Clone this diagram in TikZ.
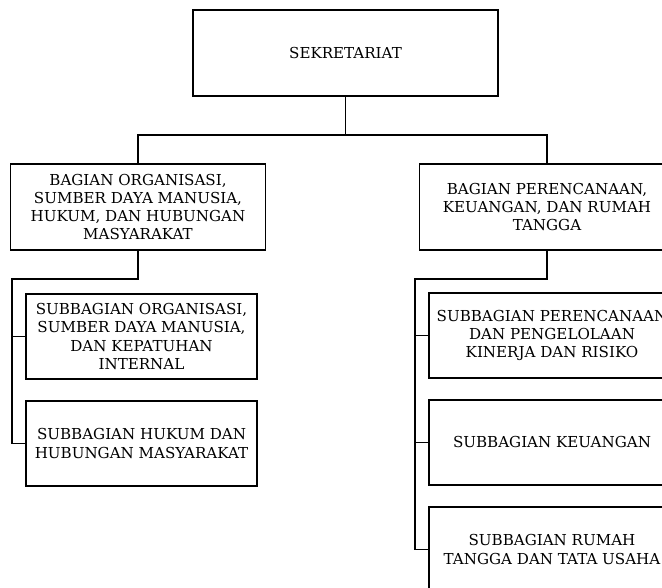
\documentclass[tikz,border=0pt]{standalone}
\usepackage{fontspec}
\setmainfont{DejaVu Serif}
\begin{document}
\begin{tikzpicture}[x=1pt,y=-1pt,
  orgbox/.style={draw=black, line width=1.3pt, align=center, inner sep=0pt,
    font={\fontsize{15.1pt}{18.3pt}\selectfont}, text=black},
  conn/.style={draw=black, line width=1.3pt}]
\useasboundingbox (0,0) rectangle (662,588);
\clip (0,0) rectangle (662,588);
% top
\node[orgbox, minimum width=305pt, minimum height=86pt] (sek) at (345.5,53) {SEKRETARIAT};
% level 2
\node[orgbox, minimum width=254.5pt, minimum height=86pt] (b1) at (138,207)
  {BAGIAN ORGANISASI,\\SUMBER DAYA MANUSIA,\\HUKUM, DAN HUBUNGAN\\MASYARAKAT};
\node[orgbox, minimum width=254.5pt, minimum height=86pt] (b2) at (547,207)
  {BAGIAN PERENCANAAN,\\KEUANGAN, DAN RUMAH\\TANGGA};
% level 3 left
\node[orgbox, minimum width=231pt, minimum height=85pt] (s1) at (141.5,336.5)
  {SUBBAGIAN ORGANISASI,\\SUMBER DAYA MANUSIA,\\DAN KEPATUHAN\\INTERNAL};
\node[orgbox, minimum width=231pt, minimum height=85pt] (s2) at (141.5,443.5)
  {SUBBAGIAN HUKUM DAN\\HUBUNGAN MASYARAKAT};
% level 3 right
\node[orgbox, minimum width=246pt, minimum height=85pt] (s3) at (552,335.5)
  {SUBBAGIAN PERENCANAAN\\DAN PENGELOLAAN\\KINERJA DAN RISIKO};
\node[orgbox, minimum width=246pt, minimum height=85pt] (s4) at (552,442.5)
  {SUBBAGIAN KEUANGAN};
\node[orgbox, minimum width=246pt, minimum height=85pt] (s5) at (552,549.5)
  {SUBBAGIAN RUMAH\\TANGGA DAN TATA USAHA};
% junctions
\coordinate (j0) at (345.5,135);
\coordinate (j1) at (12,279);
\coordinate (j2) at (415,279);
% connectors
\draw[conn] (sek.south) -- (j0);
\draw[conn] (b1.north) |- (j0) -| (b2.north);
\draw[conn] (b1.south) |- (j1) |- (s2.west);
\draw[conn] (j1) |- (s1.west);
\draw[conn] (b2.south) |- (j2) |- (s5.west);
\draw[conn] (j2) |- (s3.west);
\draw[conn] (j2) |- (s4.west);
\end{tikzpicture}
\end{document}
